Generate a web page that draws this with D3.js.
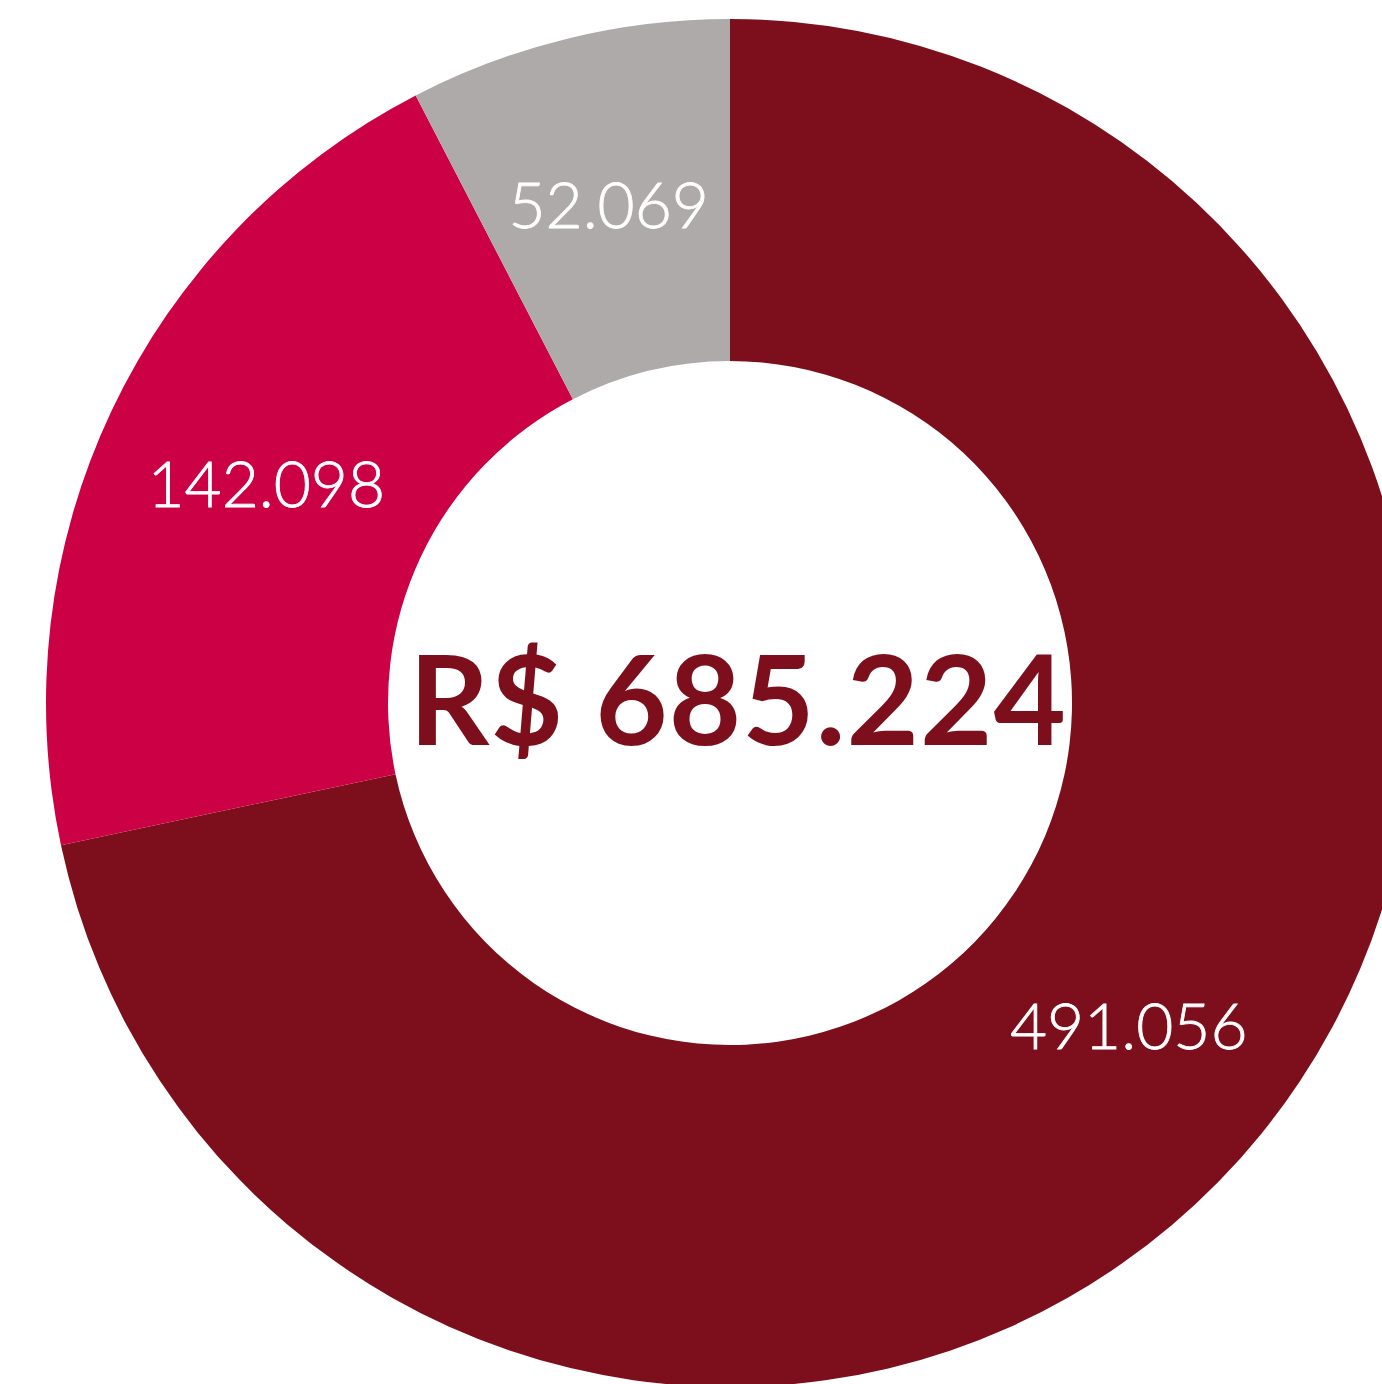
<!DOCTYPE html>
<html>
<head>
<meta charset="utf-8">
<script src="https://cdn.jsdelivr.net/npm/d3@7"></script>
<style>
  html, body { margin: 0; padding: 0; background: #fff; }
  svg { display: block; }
</style>
</head>
<body>
<div id="chart"></div>
<script>
// valores do gráfico
const categories = ["A", "B", "C"];
const values = [491056, 142098, 52069];
const valueLabels = ["491.056", "142.098", "52.069"];
const colors = ["#7d0f1c", "#cc0044", "#aeaaa9"];
const totalLabel = "R$ 685.224";

const width = 1382, height = 1384;
const cx = 730, cy = 703;
const outerR = 684, innerR = 342;

const svg = d3.select("#chart").append("svg")
  .attr("width", width)
  .attr("height", height);

const g = svg.append("g").attr("transform", `translate(${cx},${cy})`);

const pie = d3.pie().sort(null).value(d => d.value);
const arc = d3.arc().innerRadius(innerR).outerRadius(outerR);

const data = categories.map((c, i) => ({ cat: c, value: values[i], label: valueLabels[i], color: colors[i] }));
const arcs = pie(data);

// fatias
g.selectAll("path.slice")
  .data(arcs)
  .enter().append("path")
  .attr("class", "slice")
  .attr("d", arc)
  .attr("fill", d => d.data.color);

// rótulos das fatias
g.selectAll("text.val")
  .data(arcs)
  .enter().append("text")
  .attr("class", "val")
  .attr("transform", d => `translate(${arc.centroid(d)})`)
  .attr("text-anchor", "middle")
  .attr("dy", "0.36em")
  .attr("fill", "#fff")
  .style("font-family", "Lato, 'Open Sans', sans-serif")
  .style("font-weight", 300)
  .style("font-size", "64px")
  .style("stroke", "#fff")
  .style("stroke-width", "0.8px")
  .text(d => d.data.label);

// total no centro
g.append("text")
  .attr("text-anchor", "middle")
  .attr("x", 8)
  .attr("y", 42)
  .attr("fill", "#7d0f1c")
  .style("font-family", "Lato, sans-serif")
  .style("font-weight", 700)
  .style("font-size", "125px")
  .style("letter-spacing", "1px")
  .text(totalLabel);
</script>
</body>
</html>
